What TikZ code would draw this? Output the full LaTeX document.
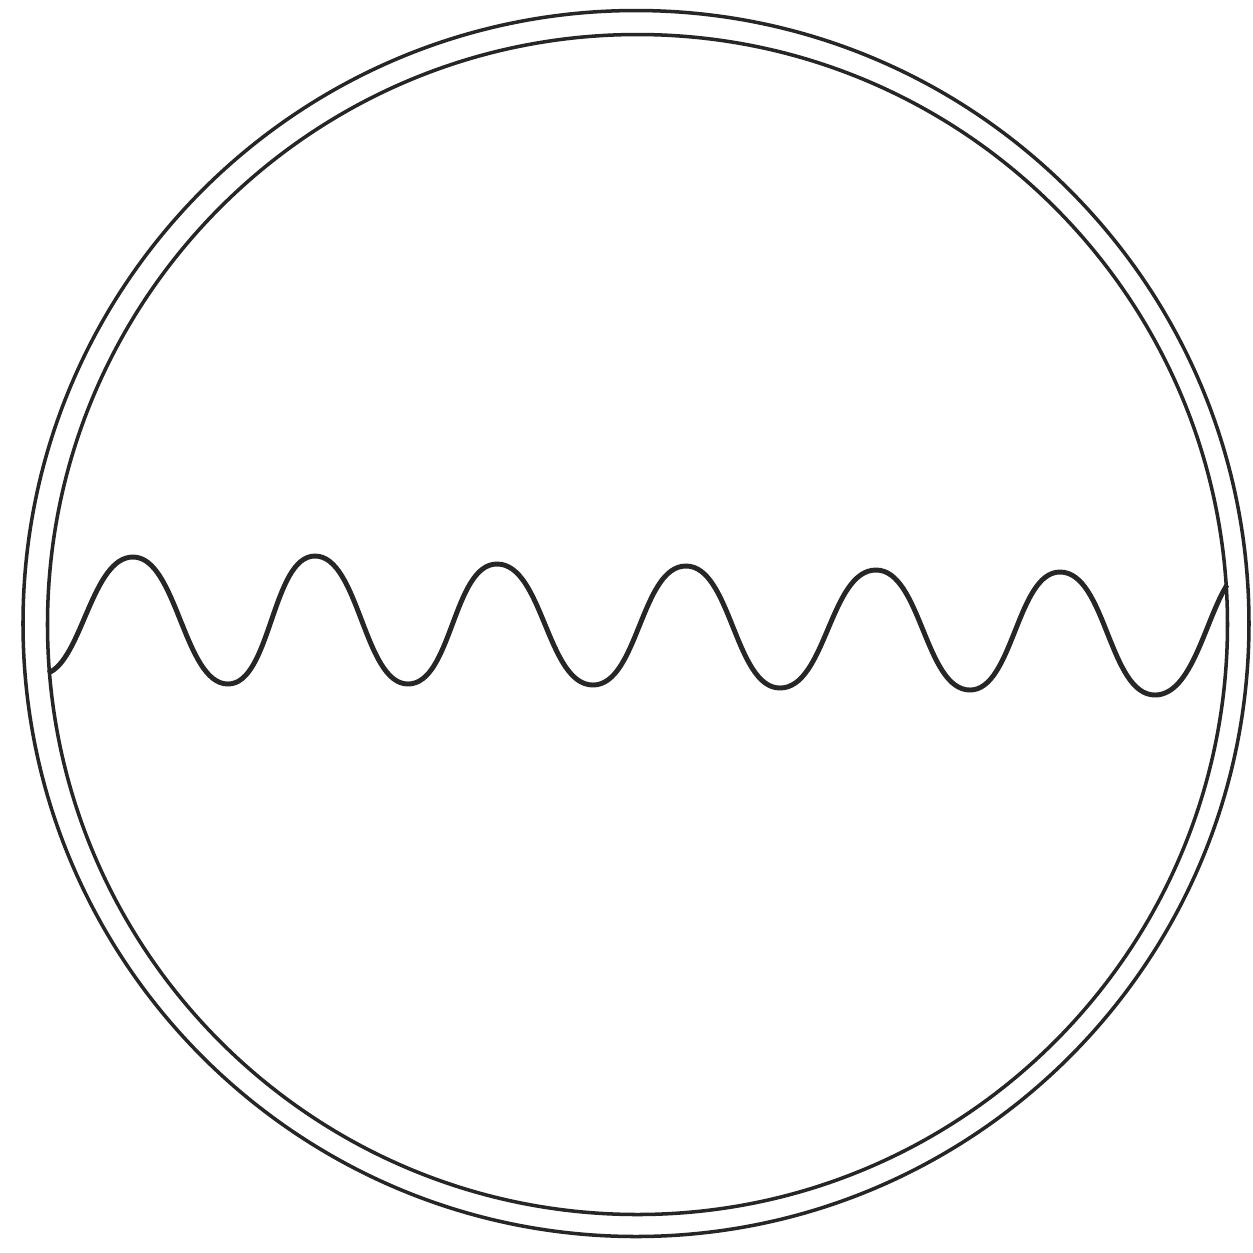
\documentclass[tikz,border=0pt]{standalone}
\begin{document}
\begin{tikzpicture}[x=0.01cm,y=-0.01cm,
  ring/.style={draw=black!85,line width=1pt},
  wave/.style={draw=black!85,line width=1.4pt,line join=round}]
\useasboundingbox (0,0) rectangle (1253,1253);
\fill[white] (0,0) rectangle (1253,1253);
\draw[ring] (636,623.5) circle[radius=613];
\draw[ring] (637.5,624.5) circle[radius=590];
\coordinate (s) at (48,673);
\coordinate (e) at (1227,585);
\draw[wave] (s) .. controls (82,660) and (92,557) .. (133,557)
  .. controls (177,557) and (184,684) .. (228,684)
  .. controls (271,684) and (272,556) .. (315,556)
  .. controls (359,556) and (364,684) .. (408,684)
  .. controls (452,684) and (453,564) .. (497,564)
  .. controls (543,564) and (547,685) .. (593,685)
  .. controls (638,685) and (641,566) .. (686,566)
  .. controls (731,566) and (735,688) .. (780,688)
  .. controls (826,688) and (830,570) .. (876,570)
  .. controls (921,570) and (925,690) .. (970,690)
  .. controls (1013,690) and (1017,572) .. (1060,572)
  .. controls (1106,572) and (1109,695) .. (1155,695)
  .. controls (1192,695) and (1205,620) .. (e);
\end{tikzpicture}
\end{document}
